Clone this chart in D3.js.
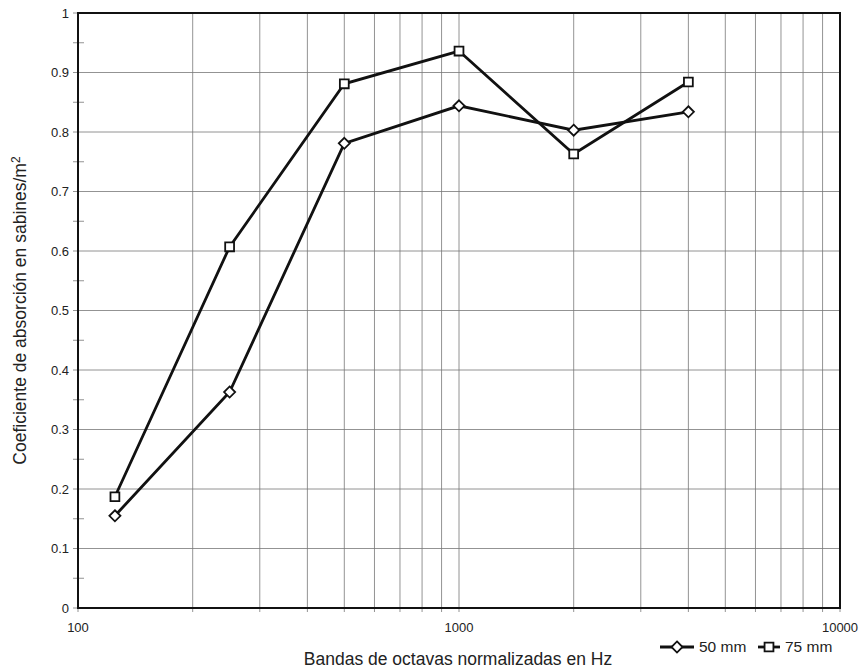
<!DOCTYPE html>
<html lang="es">

<head>
    <meta charset="UTF-8">
    <title>Coeficiente de absorción</title>
    <script src="https://cdn.jsdelivr.net/npm/d3@7"></script>
    <style>
        body { margin: 0; background: #fff; }
        text { font-family: "Liberation Sans", Arial, sans-serif; fill: #222; }
    </style>
</head>

<body>
    <script>
    var width = 863; // canvas width
    var height = 670; // canvas height

    // data
    var frequencies = [125, 250, 500, 1000, 2000, 4000];
    var mm50 = [0.155, 0.363, 0.781, 0.844, 0.803, 0.834];
    var mm75 = [0.187, 0.607, 0.881, 0.936, 0.763, 0.884];
    var yTicks = [0, 0.1, 0.2, 0.3, 0.4, 0.5, 0.6, 0.7, 0.8, 0.9, 1];
    var xLabels = [100, 1000, 10000];
    var seriesNames = ['50 mm', '75 mm'];

    var padding = { top: 13, right: 23, bottom: 62, left: 78 };

    var svg = d3.select('body')
        .append('svg')
        .attr('width', width)
        .attr('height', height);

    var x = d3.scaleLog()
        .domain([100, 10000])
        .range([padding.left, width - padding.right]);
    var y = d3.scaleLinear()
        .domain([0, 1])
        .range([height - padding.bottom, padding.top]);

    // all 1-2-...-9 lines per decade
    var xGrid = [];
    [100, 1000].forEach(function(dec) {
        for (var k = 1; k <= 9; k++) xGrid.push(dec * k);
    });
    xGrid.push(10000);

    var grid = svg.append('g').attr('stroke', '#777').attr('stroke-width', 0.8);
    grid.selectAll('.gx')
        .data(xGrid)
        .enter()
        .append('line')
        .attr('x1', function(d) { return x(d); })
        .attr('x2', function(d) { return x(d); })
        .attr('y1', y(0) + 4)
        .attr('y2', y(1));
    grid.selectAll('.gy')
        .data(yTicks)
        .enter()
        .append('line')
        .attr('x1', x(100) - 5)
        .attr('x2', x(10000))
        .attr('y1', function(d) { return y(d); })
        .attr('y2', function(d) { return y(d); });
    // half steps: small ticks that cross the left axis
    grid.selectAll('.gm')
        .data(d3.range(0.05, 1, 0.1))
        .enter()
        .append('line')
        .attr('x1', x(100) - 5)
        .attr('x2', x(100) + 6)
        .attr('y1', function(d) { return y(d); })
        .attr('y2', function(d) { return y(d); });

    // frame
    svg.append('rect')
        .attr('x', x(100))
        .attr('y', y(1))
        .attr('width', x(10000) - x(100))
        .attr('height', y(0) - y(1))
        .attr('fill', 'none')
        .attr('stroke', '#111')
        .attr('stroke-width', 2);

    // y tick labels
    svg.selectAll('.ylab')
        .data(yTicks)
        .enter()
        .append('text')
        .attr('x', x(100) - 9)
        .attr('y', function(d) { return y(d); })
        .attr('dy', '0.35em')
        .attr('text-anchor', 'end')
        .attr('font-size', '13px')
        .text(function(d) { return d; });

    // x tick labels
    svg.selectAll('.xlab')
        .data(xLabels)
        .enter()
        .append('text')
        .attr('x', function(d) { return x(d); })
        .attr('y', y(0) + 24)
        .attr('text-anchor', 'middle')
        .attr('font-size', '13px')
        .text(function(d) { return d; });

    // axis titles
    svg.append('text')
        .attr('x', 458)
        .attr('y', 665)
        .attr('text-anchor', 'middle')
        .attr('font-size', '17.5px')
        .text('Bandas de octavas normalizadas en Hz');
    var yt = svg.append('text')
        .attr('transform', 'translate(26,' + ((y(0) + y(1)) / 2) + ') rotate(-90)')
        .attr('text-anchor', 'middle')
        .attr('font-size', '17.5px')
        .text('Coeficiente de absorción en sabines/m');
    yt.append('tspan').attr('dy', '-0.5em').attr('font-size', '12px').text('2');

    // series
    var line = d3.line()
        .x(function(d) { return x(d[0]); })
        .y(function(d) { return y(d[1]); });
    var diamond = d3.symbol().type(d3.symbolDiamond2).size(78);
    var square = d3.symbol().type(d3.symbolSquare2).size(100);

    function drawSeries(values, sym) {
        var pts = frequencies.map(function(f, i) { return [f, values[i]]; });
        svg.append('path')
            .datum(pts)
            .attr('d', line)
            .attr('fill', 'none')
            .attr('stroke', '#111')
            .attr('stroke-width', 2.8);
        svg.selectAll(null)
            .data(pts)
            .enter()
            .append('path')
            .attr('transform', function(d) { return 'translate(' + x(d[0]) + ',' + y(d[1]) + ')'; })
            .attr('d', sym)
            .attr('fill', '#fff')
            .attr('stroke', '#111')
            .attr('stroke-width', 1.8);
    }
    drawSeries(mm50, diamond);
    drawSeries(mm75, square);

    // legend
    var legend = svg.append('g').attr('transform', 'translate(0,647)');
    var legItems = [
        { name: seriesNames[0], sym: diamond, x0: 660, w: 34 },
        { name: seriesNames[1], sym: square, x0: 758, w: 22 }
    ];
    legItems.forEach(function(it) {
        legend.append('line')
            .attr('x1', it.x0).attr('x2', it.x0 + it.w)
            .attr('stroke', '#111').attr('stroke-width', 2.8);
        legend.append('path')
            .attr('transform', 'translate(' + (it.x0 + it.w / 2) + ',0)')
            .attr('d', it.sym)
            .attr('fill', '#fff')
            .attr('stroke', '#111')
            .attr('stroke-width', 1.8);
        legend.append('text')
            .attr('x', it.x0 + it.w + 5)
            .attr('dy', '0.35em')
            .attr('font-size', '15.5px')
            .text(it.name);
    });
    </script>
</body>

</html>
